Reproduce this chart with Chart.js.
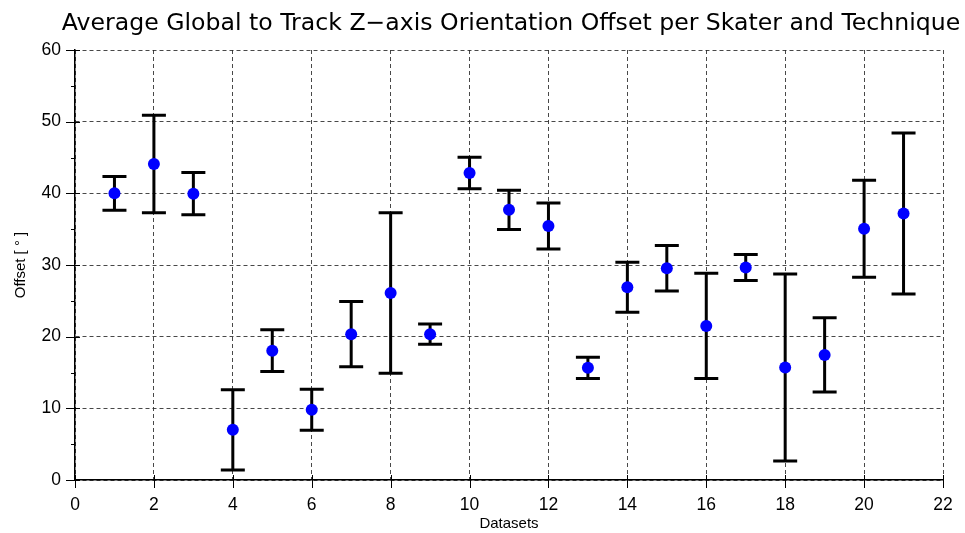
<!DOCTYPE html>
<html>
<head>
<meta charset="utf-8">
<script src="https://cdn.jsdelivr.net/npm/chart.js@4/dist/chart.umd.min.js"></script>
<style>
  html, body { margin: 0; padding: 0; background: #ffffff; }
  #wrap { width: 965px; height: 533px; }
</style>
</head>
<body>
<div id="wrap"><canvas id="chart" width="965" height="533"></canvas></div>
<script>
// Dataset numbers along the x axis
const datasetIds = [1, 2, 3, 4, 5, 6, 7, 8, 9, 10, 11, 12, 13, 14, 15, 16, 17, 18, 19, 20, 21];
// Mean Z-axis orientation offset (degrees) per dataset
const meanOffset = [40.0, 44.1, 39.95, 7.0, 18.05, 9.8, 20.35, 26.1, 20.35, 42.85, 37.7,
                    35.45, 15.65, 26.9, 29.55, 21.5, 29.65, 15.7, 17.45, 35.05, 37.2];
// Standard deviation of the offset (degrees), drawn as symmetric error bars
const stdOffset = [2.35, 6.8, 2.95, 5.6, 2.9, 2.85, 4.55, 11.2, 1.42, 2.2, 2.74,
                   3.2, 1.47, 3.5, 3.17, 7.35, 1.82, 13.05, 5.18, 6.77, 11.23];
// Axis ranges and tick spacing
const xTicks = { min: 0, max: 22, step: 2 };
const yTicks = { min: 0, max: 60, step: 10, minorStep: 5 };
const chartTitle = 'Average Global to Track Z\u2212axis Orientation Offset per Skater and Technique';

const points = datasetIds.map((id, i) => ({ x: id, y: meanOffset[i], err: stdOffset[i] }));

// Title centred over the plotting area, allowed to run past its edges
const plotTitle = {
  id: 'plotTitle',
  afterDraw(chart) {
    const { ctx, chartArea: a } = chart;
    ctx.save();
    ctx.font = '23.6px "DejaVu Sans"';
    ctx.fillStyle = '#000000';
    ctx.textAlign = 'center';
    ctx.textBaseline = 'middle';
    ctx.fillText(chartTitle, (a.left + a.right) / 2 + 2, 24);
    ctx.restore();
  }
};

// Vertical error bars with end caps, drawn beneath the markers
const errorBars = {
  id: 'errorBars',
  beforeDatasetsDraw(chart) {
    const { ctx, scales: { x, y } } = chart;
    const cap = 12;
    ctx.save();
    ctx.strokeStyle = '#000000';
    ctx.lineWidth = 3;
    ctx.lineCap = 'butt';
    chart.data.datasets[0].data.forEach(p => {
      const px = x.getPixelForValue(p.x);
      const top = y.getPixelForValue(p.y + p.err);
      const bot = y.getPixelForValue(p.y - p.err);
      ctx.beginPath();
      ctx.moveTo(px, top); ctx.lineTo(px, bot);
      ctx.moveTo(px - cap, top); ctx.lineTo(px + cap, top);
      ctx.moveTo(px - cap, bot); ctx.lineTo(px + cap, bot);
      ctx.stroke();
    });
    ctx.restore();
  }
};

// Tick marks crossing the axes, with minor ticks on the y axis
const axisTicks = {
  id: 'axisTicks',
  afterDatasetsDraw(chart) {
    const { ctx, scales: { x, y }, chartArea: a } = chart;
    ctx.save();
    ctx.strokeStyle = '#000000';
    ctx.lineWidth = 1;
    ctx.beginPath();
    for (let v = xTicks.min; v <= xTicks.max; v += xTicks.step) {
      const px = Math.round(x.getPixelForValue(v)) + 0.5;
      ctx.moveTo(px, a.bottom - 5); ctx.lineTo(px, a.bottom + 8);
    }
    for (let v = yTicks.min; v <= yTicks.max; v += yTicks.step) {
      const py = Math.round(y.getPixelForValue(v)) + 0.5;
      ctx.moveTo(a.left - 9, py); ctx.lineTo(a.left + 5, py);
    }
    for (let v = yTicks.min + yTicks.minorStep; v < yTicks.max; v += yTicks.step) {
      const py = Math.round(y.getPixelForValue(v)) + 0.5;
      ctx.moveTo(a.left - 4, py); ctx.lineTo(a.left, py);
    }
    ctx.stroke();
    ctx.restore();
  }
};

const gridStyle = {
  color: 'rgba(40,40,40,0.85)',
  lineWidth: 1,
  drawTicks: false
};

new Chart(document.getElementById('chart'), {
  type: 'scatter',
  data: {
    datasets: [{
      data: points,
      pointRadius: 6,
      pointHoverRadius: 6,
      pointBackgroundColor: '#0000ff',
      pointBorderColor: '#0000ff',
      pointBorderWidth: 0,
      showLine: false
    }]
  },
  options: {
    responsive: false,
    animation: false,
    events: [],
    layout: { padding: { left: 0, right: 22, top: 50, bottom: 0 } },
    plugins: {
      legend: { display: false },
      tooltip: { enabled: false },
      title: { display: false }
    },
    scales: {
      x: {
        type: 'linear',
        min: xTicks.min,
        max: xTicks.max,
        ticks: {
          stepSize: xTicks.step,
          color: '#000000',
          padding: 15,
          font: { family: 'Liberation Sans', size: 17.5 }
        },
        grid: { ...gridStyle },
        border: { display: true, color: '#000000', width: 1.5, dash: [4, 3] },
        title: {
          display: true,
          text: 'Datasets',
          color: '#000000',
          font: { family: 'Liberation Sans', size: 15 },
          padding: { top: 0, bottom: 0 }
        },
        afterFit(scale) {
          scale.height = 53;
          scale.paddingLeft = 0;
          scale.paddingRight = 0;
        }
      },
      y: {
        type: 'linear',
        min: yTicks.min,
        max: yTicks.max,
        ticks: {
          stepSize: yTicks.step,
          color: '#000000',
          padding: 14,
          font: { family: 'Liberation Sans', size: 17.5 }
        },
        grid: { ...gridStyle },
        border: { display: true, color: '#000000', width: 1.5, dash: [4, 3] },
        title: {
          display: true,
          text: 'Offset [ \u00b0 ]',
          color: '#000000',
          font: { family: 'Liberation Sans', size: 15 },
          padding: { top: 12, bottom: 0 }
        },
        afterFit(scale) {
          scale.width = 75;
          scale.paddingTop = 0;
          scale.paddingBottom = 0;
        }
      }
    }
  },
  plugins: [errorBars, axisTicks, plotTitle]
});
</script>
</body>
</html>
